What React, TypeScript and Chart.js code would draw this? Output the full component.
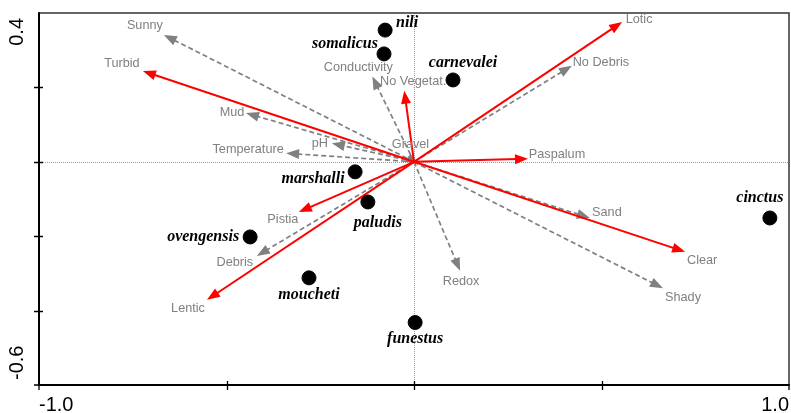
import React, { useEffect, useRef } from "react";
import { Chart, registerables } from "chart.js";

Chart.register(...registerables);

// ---- data ----
const xRange = [-1.0, 1.0];
const yRange = [-0.6, 0.4];
const xTickLabels = ["-1.0", "1.0"];
const yTickLabels = ["-0.6", "0.4"];
const xMinorTicks = [-0.5, 0, 0.5];
const yMinorTicks = [0.2, 0, -0.2, -0.4];

// significant (red, solid) environmental vectors
const redNames = ["Turbid", "Lotic", "No Vegetat.", "Paspalum", "Clear", "Pistia", "Lentic"];
const redX = [-0.723, 0.555, -0.026, 0.304, 0.723, -0.307, -0.552];
const redY = [0.244, 0.376, 0.191, 0.008, -0.242, -0.135, -0.371];

// other (grey, dashed) environmental vectors
const greyNames = ["Sunny", "Conductivity", "No Debris", "Mud", "pH", "Temperature", "Gravel", "Sand", "Shady", "Redox", "Debris"];
const greyX = [-0.667, -0.111, 0.421, -0.448, -0.219, -0.341, 0.012, 0.469, 0.664, 0.123, -0.419];
const greyY = [0.341, 0.229, 0.258, 0.131, 0.05, 0.023, -0.008, -0.151, -0.34, -0.293, -0.253];

// species scores
const speciesNames = ["nili", "somalicus", "carnevalei", "marshalli", "paludis", "ovengensis", "moucheti", "funestus", "cinctus"];
const speciesX = [-0.077, -0.08, 0.104, -0.157, -0.123, -0.437, -0.28, 0.003, 0.949];
const speciesY = [0.354, 0.29, 0.22, -0.027, -0.108, -0.202, -0.312, -0.432, -0.151];

// ---- label layout (pixel offsets from arrow tip / point centre) ----
const envLabelOffset: Record<string, [number, number]> = {
  Turbid: [-21, -8],
  Lotic: [17, -2],
  "No Vegetat.": [9, -9],
  Paspalum: [29, -4],
  Clear: [17, 9],
  Pistia: [-16, 7],
  Lentic: [-19, 9],
  Sunny: [-19, -9],
  Conductivity: [-14, -9],
  "No Debris": [29, -3],
  Mud: [-14, -1],
  pH: [-12, 0],
  Temperature: [-38, -4],
  Gravel: [-8, -20],
  Sand: [17, -5],
  Shady: [20, 9],
  Redox: [1, 11],
  Debris: [-22, 7],
};
const speciesLabelOffset: Record<string, [number, number]> = {
  nili: [22, -7],
  somalicus: [-39, -10],
  carnevalei: [10, -17],
  marshalli: [-42, 7],
  paludis: [10, 21],
  ovengensis: [-47, 0],
  moucheti: [0, 17],
  funestus: [0, 16],
  cinctus: [-10, -20],
};

const RED = "#ff0000";
const GREY = "#808080";

function drawArrow(ctx: CanvasRenderingContext2D, x0: number, y0: number, x1: number, y1: number, color: string, dashed: boolean) {
  const dx = x1 - x0;
  const dy = y1 - y0;
  const len = Math.hypot(dx, dy);
  if (len < 0.01) return;
  const ux = dx / len;
  const uy = dy / len;
  const headLen = 13;
  const headHalf = 5;
  const bx = x1 - ux * headLen;
  const by = y1 - uy * headLen;
  ctx.save();
  ctx.strokeStyle = color;
  ctx.fillStyle = color;
  ctx.lineWidth = dashed ? 1.7 : 2;
  ctx.setLineDash(dashed ? [5, 3] : []);
  if (len > headLen) {
    ctx.beginPath();
    ctx.moveTo(x0, y0);
    ctx.lineTo(bx + ux * 2, by + uy * 2);
    ctx.stroke();
  }
  ctx.setLineDash([]);
  ctx.beginPath();
  ctx.moveTo(x1, y1);
  ctx.lineTo(bx - uy * headHalf, by + ux * headHalf);
  ctx.lineTo(bx + uy * headHalf, by - ux * headHalf);
  ctx.closePath();
  ctx.fill();
  ctx.restore();
}

const biplotPlugin = {
  id: "biplot",
  beforeDatasetsDraw(chart: any) {
    const ctx: CanvasRenderingContext2D = chart.ctx;
    const xs = chart.scales.x;
    const ys = chart.scales.y;
    const a = chart.chartArea;
    const ox = xs.getPixelForValue(0);
    const oy = ys.getPixelForValue(0);

    // zero lines (dotted)
    ctx.save();
    ctx.strokeStyle = "#9a9a9a";
    ctx.lineWidth = 1;
    ctx.setLineDash([1, 1]);
    ctx.beginPath();
    ctx.moveTo(a.left, Math.round(oy) + 0.5);
    ctx.lineTo(a.right, Math.round(oy) + 0.5);
    ctx.moveTo(Math.round(ox) + 0.5, a.top);
    ctx.lineTo(Math.round(ox) + 0.5, a.bottom);
    ctx.stroke();
    ctx.restore();

    // grey dashed vectors
    greyNames.forEach((n, i) => {
      drawArrow(ctx, ox, oy, xs.getPixelForValue(greyX[i]), ys.getPixelForValue(greyY[i]), GREY, true);
    });
    // red vectors
    redNames.forEach((n, i) => {
      drawArrow(ctx, ox, oy, xs.getPixelForValue(redX[i]), ys.getPixelForValue(redY[i]), RED, false);
    });
  },
  afterDatasetsDraw(chart: any) {
    const ctx: CanvasRenderingContext2D = chart.ctx;
    const xs = chart.scales.x;
    const ys = chart.scales.y;
    const a = chart.chartArea;

    // environmental labels
    ctx.save();
    ctx.font = '12.7px "Liberation Sans", Arial, sans-serif';
    ctx.fillStyle = GREY;
    ctx.textAlign = "center";
    ctx.textBaseline = "middle";
    const envAll = [
      ...redNames.map((n, i) => [n, redX[i], redY[i]] as [string, number, number]),
      ...greyNames.map((n, i) => [n, greyX[i], greyY[i]] as [string, number, number]),
    ];
    envAll.forEach(([n, x, y]) => {
      const off = envLabelOffset[n] || [0, 0];
      ctx.fillText(n, xs.getPixelForValue(x) + off[0], ys.getPixelForValue(y) + off[1]);
    });
    ctx.restore();

    // species labels
    ctx.save();
    ctx.font = 'italic bold 16px "Liberation Serif", "Times New Roman", serif';
    ctx.fillStyle = "#000";
    ctx.textAlign = "center";
    ctx.textBaseline = "middle";
    speciesNames.forEach((n, i) => {
      const off = speciesLabelOffset[n] || [0, 0];
      ctx.fillText(n, xs.getPixelForValue(speciesX[i]) + off[0], ys.getPixelForValue(speciesY[i]) + off[1]);
    });
    ctx.restore();

    // frame
    ctx.save();
    ctx.strokeStyle = "#333";
    ctx.lineWidth = 1.5;
    ctx.beginPath();
    ctx.moveTo(a.left, a.top);
    ctx.lineTo(a.right, a.top);
    ctx.lineTo(a.right, a.bottom);
    ctx.stroke();
    ctx.strokeStyle = "#000";
    ctx.lineWidth = 2;
    ctx.beginPath();
    ctx.moveTo(a.left, a.top - 0.75);
    ctx.lineTo(a.left, a.bottom);
    ctx.lineTo(a.right + 0.75, a.bottom);
    ctx.stroke();

    // ticks
    ctx.lineWidth = 1.3;
    ctx.beginPath();
    xMinorTicks.forEach((v) => {
      const px = Math.round(xs.getPixelForValue(v)) + 0.5;
      ctx.moveTo(px, a.bottom - 4);
      ctx.lineTo(px, a.bottom + 5);
    });
    yMinorTicks.forEach((v) => {
      const py = Math.round(ys.getPixelForValue(v)) + 0.5;
      ctx.moveTo(a.left - 5, py);
      ctx.lineTo(a.left + 4, py);
    });
    ctx.moveTo(a.left, a.bottom);
    ctx.lineTo(a.left, a.bottom + 5);
    ctx.moveTo(a.left - 5, a.bottom);
    ctx.lineTo(a.left, a.bottom);
    ctx.moveTo(a.right, a.bottom);
    ctx.lineTo(a.right, a.bottom + 5);
    ctx.stroke();

    // tick labels
    ctx.fillStyle = "#000";
    ctx.font = '20px "Liberation Sans", Arial, sans-serif';
    ctx.textBaseline = "middle";
    ctx.textAlign = "left";
    ctx.fillText(xTickLabels[0], xs.getPixelForValue(xRange[0]), a.bottom + 20);
    ctx.textAlign = "right";
    ctx.fillText(xTickLabels[1], xs.getPixelForValue(xRange[1]), a.bottom + 20);

    ctx.save();
    ctx.translate(17, ys.getPixelForValue(yRange[0]) - 5);
    ctx.rotate(-Math.PI / 2);
    ctx.textAlign = "left";
    ctx.fillText(yTickLabels[0], 0, 0);
    ctx.restore();
    ctx.save();
    ctx.translate(17, ys.getPixelForValue(yRange[1]) + 5);
    ctx.rotate(-Math.PI / 2);
    ctx.textAlign = "right";
    ctx.fillText(yTickLabels[1], 0, 0);
    ctx.restore();
    ctx.restore();
  },
};

export default function App() {
  const ref = useRef<HTMLCanvasElement | null>(null);
  useEffect(() => {
    document.body.style.margin = "0";
    const canvas = ref.current;
    if (!canvas) return;
    const chart = new Chart(canvas, {
      type: "scatter",
      data: {
        datasets: [
          {
            label: "species",
            data: speciesNames.map((n, i) => ({ x: speciesX[i], y: speciesY[i] })),
            backgroundColor: "#000",
            borderColor: "#000",
            pointRadius: 7,
            pointHoverRadius: 7,
          },
        ],
      },
      options: {
        animation: false,
        responsive: false,
        devicePixelRatio: 1,
        layout: { autoPadding: false, padding: { left: 39, right: 2, top: 13, bottom: 28 } },
        plugins: { legend: { display: false }, tooltip: { enabled: false } },
        events: [],
        scales: {
          x: { type: "linear", min: xRange[0], max: xRange[1], display: false },
          y: { type: "linear", min: yRange[0], max: yRange[1], display: false },
        },
      },
      plugins: [biplotPlugin],
    });
    return () => chart.destroy();
  }, []);
  return (
    <div style={{ width: 791, height: 413, background: "#fff" }}>
      <canvas ref={ref} width={791} height={413} style={{ display: "block" }} />
    </div>
  );
}
